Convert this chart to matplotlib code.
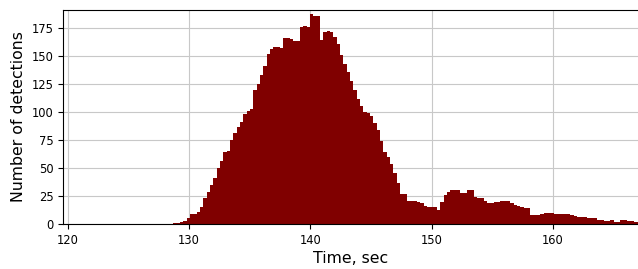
import numpy as np
import matplotlib.pyplot as plt

# histogram of detection times, bins of 0.275 s starting at 128.7 s
bin_start = 128.7
bin_width = 0.275
counts = [
    1, 1, 2, 3, 5, 9, 9, 11, 15, 23,
    29, 35, 41, 50, 56, 64, 65, 75, 81, 87,
    91, 98, 101, 103, 120, 125, 133, 141, 152, 156,
    158, 158, 157, 166, 166, 165, 163, 163, 176, 177,
    176, 187, 186, 186, 164, 171, 172, 171, 167, 161,
    151, 143, 136, 128, 120, 112, 105, 100, 99, 96,
    90, 84, 74, 64, 60, 54, 46, 37, 27, 27,
    21, 21, 21, 20, 19, 16, 15, 15, 15, 13,
    20, 26, 29, 30, 30, 30, 28, 28, 30, 30,
    24, 23, 23, 21, 19, 19, 20, 20, 21, 21,
    21, 19, 17, 16, 15, 14, 14, 8, 8, 8,
    9, 10, 10, 10, 9, 9, 9, 9, 9, 8,
    7, 6, 6, 6, 5, 5, 5, 4, 4, 3,
    3, 4, 2, 2, 4, 4, 3, 3, 2, 2,
    2,
]
x_ticks = [120, 130, 140, 150, 160]
y_ticks = [0, 25, 50, 75, 100, 125, 150, 175]

edges = bin_start + bin_width * np.arange(len(counts) + 1)

fig = plt.figure(figsize=(6.38, 2.69), dpi=100)
ax = fig.add_axes([0.0992, 0.167, 0.9008, 0.796])

ax.stairs(counts, edges, fill=True, color='#800000')

ax.set_xlim(119.64, 167.0)
ax.set_ylim(0, 191)
ax.set_xticks(x_ticks)
ax.set_yticks(y_ticks)
ax.tick_params(labelsize=8.3)
ax.grid(True, color='#c8c8c8', linewidth=0.8)
ax.set_axisbelow(True)
ax.spines['right'].set_visible(False)

ax.set_xlabel('Time, sec', fontsize=11.3, labelpad=3)
ax.set_ylabel('Number of detections', fontsize=11.3)

fig.savefig('out.png', dpi=100)
